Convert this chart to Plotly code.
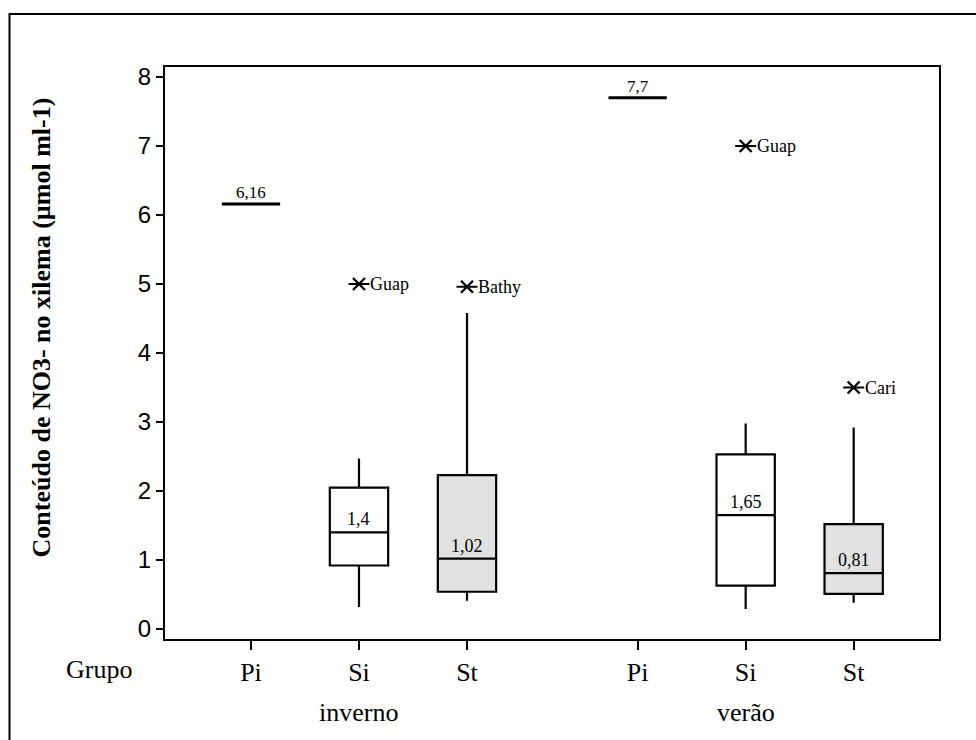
import plotly.graph_objects as go

# ---------------- data ----------------
seasons = ["inverno", "verão"]
groups = ["Pi", "Si", "St"]

# Pi: single observation per season
pi_season = ["inverno", "verão"]
pi_value = [6.16, 7.7]
pi_label = ["6,16", "7,7"]

# Boxes (Si, St) per season
box_season = ["inverno", "inverno", "verão", "verão"]
box_group = ["Si", "St", "Si", "St"]
box_lower = [0.32, 0.41, 0.29, 0.38]
box_q1 = [0.92, 0.54, 0.63, 0.51]
box_median = [1.40, 1.02, 1.65, 0.81]
box_q3 = [2.05, 2.23, 2.53, 1.52]
box_upper = [2.47, 4.58, 2.98, 2.92]
box_label = ["1,4", "1,02", "1,65", "0,81"]

# Outliers
out_season = ["inverno", "inverno", "verão", "verão"]
out_group = ["Si", "St", "Si", "St"]
out_value = [5.0, 4.96, 7.0, 3.5]
out_label = ["Guap", "Bathy", "Guap", "Cari"]

y_ticks = [0, 1, 2, 3, 4, 5, 6, 7, 8]

# ---------------- layout helpers ----------------
group_index = {g: i for i, g in enumerate(groups)}
season_offset = {"inverno": 0.0, "verão": 3.58}


def pos(season, group):
    return season_offset[season] + group_index[group]


SERIF = "Liberation Serif, Times New Roman, serif"
SANS = "Liberation Sans, Arial, sans-serif"
BOXW = 0.54
fills = {"Si": "white", "St": "#e1e1e1"}

fig = go.Figure()

# Pi lines
for s, v in zip(pi_season, pi_value):
    p = pos(s, "Pi")
    fig.add_trace(go.Scatter(x=[p - BOXW / 2, p + BOXW / 2], y=[v, v], mode="lines",
                             line=dict(color="black", width=3), showlegend=False, hoverinfo="skip"))

# Boxes
for s, g, lo, a, m, b, hi in zip(box_season, box_group, box_lower, box_q1, box_median, box_q3, box_upper):
    fig.add_trace(go.Box(x=[pos(s, g)], lowerfence=[lo], q1=[a], median=[m], q3=[b], upperfence=[hi],
                         width=BOXW, whiskerwidth=0, fillcolor=fills[g],
                         line=dict(color="black", width=2.2), boxpoints=False, showlegend=False))

# Outliers (asterisk: X + horizontal bar)
ox = [pos(s, g) for s, g in zip(out_season, out_group)]
fig.add_trace(go.Scatter(x=ox, y=out_value, mode="markers",
                         marker=dict(symbol="x-thin-open", size=12, color="black",
                                     line=dict(color="black", width=2.4)),
                         showlegend=False, hoverinfo="skip"))
fig.add_trace(go.Scatter(x=ox, y=out_value, mode="markers",
                         marker=dict(symbol="line-ew-open", size=15, color="black",
                                     line=dict(color="black", width=2)),
                         showlegend=False, hoverinfo="skip"))

ann = []
for x, v, t in zip(ox, out_value, out_label):
    ann.append(dict(x=x, y=v, xref="x", yref="y", text=t, showarrow=False, xanchor="left",
                    yanchor="middle", xshift=9, font=dict(family=SERIF, size=18, color="black")))
for s, g, m, t in zip(box_season, box_group, box_median, box_label):
    ann.append(dict(x=pos(s, g), y=m, xref="x", yref="y", text=t, showarrow=False,
                    yanchor="bottom", yshift=1, font=dict(family=SERIF, size=18, color="black")))
for s, v, t in zip(pi_season, pi_value, pi_label):
    ann.append(dict(x=pos(s, "Pi"), y=v, xref="x", yref="y", text=t, showarrow=False,
                    yanchor="bottom", yshift=0, font=dict(family=SERIF, size=17, color="black")))
for s in seasons:
    ann.append(dict(x=pos(s, "Si"), y=-0.128, xref="x", yref="paper", text=s, showarrow=False,
                    yanchor="middle", font=dict(family=SERIF, size=26, color="black")))
ann.append(dict(x=-0.085, y=-0.054, xref="paper", yref="paper", text="Grupo", showarrow=False,
                xanchor="center", yanchor="middle", font=dict(family=SERIF, size=26, color="black")))
ann.append(dict(x=-0.159, y=0.5446, xref="paper", yref="paper",
                text="<b>Conteúdo de NO3- no xilema (µmol ml-1)</b>", showarrow=False, textangle=-90,
                xanchor="center", yanchor="middle", font=dict(family=SERIF, size=26, color="black")))

tickpos = [pos(s, g) for s in seasons for g in groups]
ticktext = [g for s in seasons for g in groups]

fig.update_layout(
    width=976, height=740,
    margin=dict(l=165, r=37, t=67, b=101),
    paper_bgcolor="white", plot_bgcolor="white",
    showlegend=False,
    annotations=ann,
    shapes=[dict(type="rect", xref="paper", yref="paper", x0=-0.2009, x1=1.08, y0=-0.2, y1=1.0927,
                 line=dict(color="black", width=2), layer="below")],
    xaxis=dict(range=[-0.796, 6.37], tickvals=tickpos, ticktext=ticktext, ticks="outside", ticklen=9,
               tickwidth=2, tickcolor="black", showline=True, linewidth=2, linecolor="black", mirror=True,
               showgrid=False, zeroline=False, tickfont=dict(family=SERIF, size=26, color="black")),
    yaxis=dict(range=[-0.145, 8.145], tickvals=y_ticks, ticks="outside", ticklen=7, tickwidth=2,
               tickcolor="black", showline=True, linewidth=2, linecolor="black", mirror=True,
               showgrid=False, zeroline=False, tickfont=dict(family=SANS, size=24, color="black")),
)

fig.write_html("out.html")
